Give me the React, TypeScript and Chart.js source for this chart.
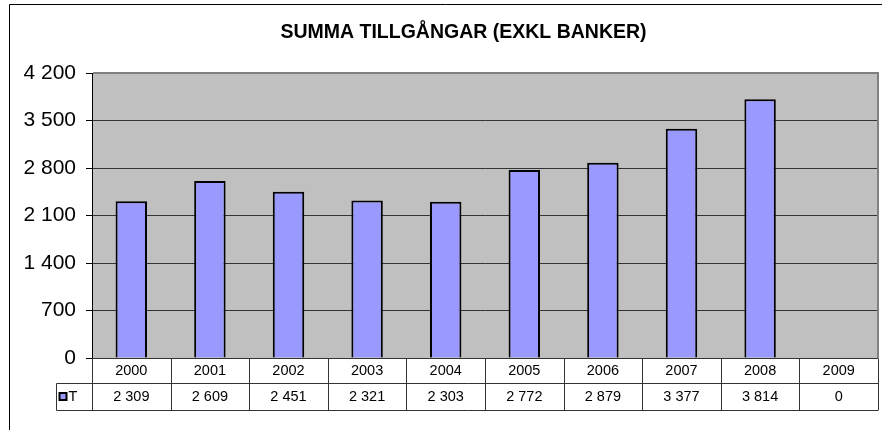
import React, { useEffect, useRef } from "react";
import { Chart, registerables } from "chart.js";

Chart.register(...registerables);

const TITLE = "SUMMA TILLGÅNGAR (EXKL BANKER)";
const SERIES_NAME = "T";
const YEARS = ["2000", "2001", "2002", "2003", "2004", "2005", "2006", "2007", "2008", "2009"];
const VALUES = [2309, 2609, 2451, 2321, 2303, 2772, 2879, 3377, 3814, 0];
const Y_TICKS = [0, 700, 1400, 2100, 2800, 3500, 4200];

const FONT = "Arial, 'Liberation Sans', sans-serif";
const BAR_FILL = "#9999ff";

const fmt = (n: number) => String(n).replace(/\B(?=(\d{3})+(?!\d))/g, " ");

const excelPlugin = {
  id: "excelLook",
  beforeDraw(chart: any) {
    const { ctx, chartArea: a } = chart;
    ctx.save();
    ctx.fillStyle = "#ffffff";
    ctx.fillRect(0, 0, chart.width, chart.height);
    ctx.fillStyle = "#c0c0c0";
    ctx.fillRect(a.left, a.top, a.right - a.left, a.bottom - a.top);
    ctx.strokeStyle = "#000";
    ctx.lineWidth = 1;
    ctx.beginPath();
    ctx.moveTo(9.5, chart.height);
    ctx.lineTo(9.5, 4.5);
    ctx.lineTo(chart.width, 4.5);
    ctx.stroke();
    // title
    ctx.fillStyle = "#000";
    ctx.font = `bold 19.5px ${FONT}`;
    ctx.textAlign = "center";
    ctx.textBaseline = "middle";
    ctx.fillText(TITLE, 463.5, 33);
    ctx.restore();
  },
  beforeDatasetsDraw(chart: any) {
    const { ctx, chartArea: a } = chart;
    ctx.save();
    ctx.strokeStyle = "#808080";
    ctx.lineWidth = 2;
    ctx.beginPath();
    ctx.moveTo(a.left + 1, a.top);
    ctx.lineTo(a.right, a.top);
    ctx.lineTo(a.right, a.bottom);
    ctx.stroke();
    ctx.restore();
  },
  afterDraw(chart: any) {
    const { ctx, chartArea: a } = chart;
    const xs = chart.scales.x;
    const n = YEARS.length;
    const w = xs.getPixelForValue(1) - xs.getPixelForValue(0);
    const r0 = Math.round(a.bottom) + 0.5;
    const r1 = r0 + 25;
    const r2 = r0 + 52;
    const legLeft = Math.round(a.left) - 36 + 0.5;
    ctx.save();
    ctx.strokeStyle = "#333";
    ctx.lineWidth = 1;
    ctx.beginPath();
    ctx.moveTo(a.left, r0);
    ctx.lineTo(a.right, r0);
    ctx.moveTo(legLeft, r1);
    ctx.lineTo(a.right, r1);
    ctx.moveTo(legLeft, r2);
    ctx.lineTo(a.right, r2);
    for (let i = 0; i <= n; i++) {
      const bx = Math.round(xs.getPixelForValue(0) - w / 2 + i * w) + 0.5;
      ctx.moveTo(bx, r0);
      ctx.lineTo(bx, r2);
    }
    ctx.moveTo(legLeft, r1);
    ctx.lineTo(legLeft, r2);
    ctx.stroke();

    ctx.fillStyle = "#000";
    ctx.font = `14.5px ${FONT}`;
    ctx.textAlign = "center";
    ctx.textBaseline = "middle";
    for (let i = 0; i < n; i++) {
      const cx = xs.getPixelForValue(i);
      ctx.fillText(YEARS[i], cx, r0 + 12.5);
      ctx.fillText(fmt(VALUES[i]), cx, r1 + 13);
    }
    // legend key
    ctx.fillStyle = BAR_FILL;
    ctx.fillRect(legLeft + 3, r1 + 9.5, 7, 7);
    ctx.strokeStyle = "#000";
    ctx.lineWidth = 2;
    ctx.strokeRect(legLeft + 3, r1 + 9.5, 7, 7);
    ctx.fillStyle = "#000";
    ctx.textAlign = "left";
    ctx.fillText(SERIES_NAME, legLeft + 12, r1 + 13);
    ctx.restore();
  },
};

export default function App() {
  const ref = useRef<HTMLCanvasElement | null>(null);
  useEffect(() => {
    if (!ref.current) return;
    const chart = new Chart(ref.current, {
      type: "bar",
      data: {
        labels: YEARS,
        datasets: [
          {
            label: SERIES_NAME,
            data: VALUES,
            backgroundColor: BAR_FILL,
            borderColor: "#000",
            borderWidth: 2,
            categoryPercentage: 1,
            barPercentage: 0.4,
          },
        ],
      },
      options: {
        animation: false,
        responsive: false,
        devicePixelRatio: 1,
        layout: { padding: { left: 0, right: 4, top: 73, bottom: 20 } },
        plugins: {
          legend: { display: false },
          tooltip: { enabled: false },
          title: { display: false },
        },
        scales: {
          x: {
            ticks: { display: false },
            grid: { display: false },
            border: { display: false },
            afterFit(s: any) {
              s.height = 52;
            },
          },
          y: {
            min: 0,
            max: 4200,
            afterBuildTicks(s: any) {
              s.ticks = Y_TICKS.map((v) => ({ value: v }));
            },
            ticks: {
              color: "#000",
              padding: 10,
              font: { family: FONT, size: 21 },
              callback: (v: any) => fmt(Number(v)),
            },
            grid: {
              color: "#333",
              lineWidth: 1,
              tickLength: 6,
              tickColor: "#000",
            },
            border: { display: true, color: "#000", width: 1 },
            afterFit(s: any) {
              s.width = 92;
            },
          },
        },
      },
      plugins: [excelPlugin],
    } as any);
    return () => chart.destroy();
  }, []);
  return (
    <div style={{ position: "absolute", left: 0, top: 0, width: 882, height: 430, background: "#fff" }}>
      <canvas ref={ref} width={882} height={430} style={{ display: "block" }} />
    </div>
  );
}
